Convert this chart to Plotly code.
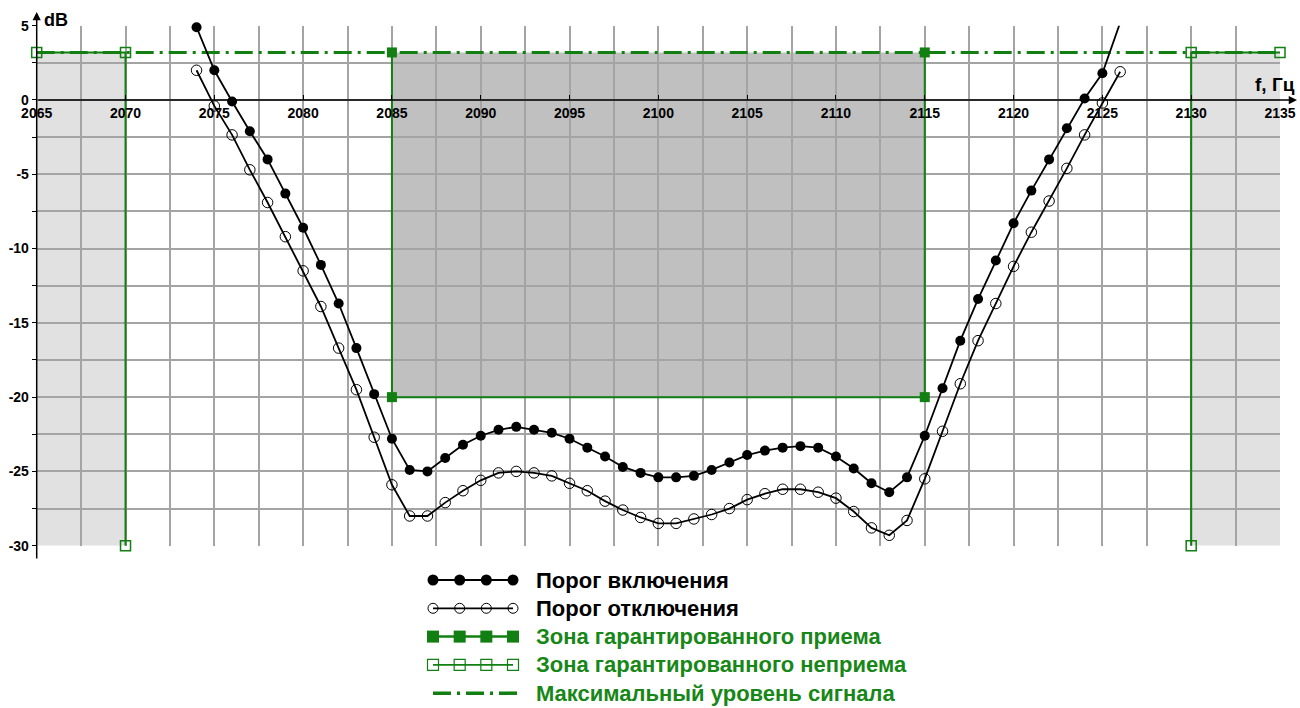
import plotly.graph_objects as go

# ---------------- data ----------------
FREQ = list(range(2074, 2127))
THRESH_ON = [4.9, 2.0, -0.1, -2.1, -4.0, -6.3, -8.6, -11.1, -13.7, -16.7, -19.8, -22.8,
             -24.9, -25.0, -24.1, -23.2, -22.6, -22.2, -22.0, -22.2, -22.4, -22.8, -23.4,
             -24.0, -24.7, -25.1, -25.4, -25.4, -25.3, -24.9, -24.4, -23.9, -23.6, -23.4,
             -23.3, -23.4, -24.0, -24.8, -25.8, -26.4, -25.4, -22.6, -19.4, -16.2, -13.4,
             -10.8, -8.3, -6.1, -4.0, -1.9, 0.1, 1.8, 5.2]
THRESH_OFF = [2.0, -0.4, -2.35, -4.7, -6.9, -9.2, -11.5, -13.9, -16.7, -19.5, -22.7, -25.9,
              -28.0, -28.0, -27.1, -26.3, -25.6, -25.1, -25.0, -25.1, -25.3, -25.8, -26.3,
              -27.0, -27.6, -28.1, -28.5, -28.5, -28.2, -27.9, -27.5, -26.9, -26.5, -26.2,
              -26.2, -26.4, -26.8, -27.7, -28.8, -29.3, -28.3, -25.5, -22.3, -19.1, -16.2,
              -13.7, -11.2, -8.9, -6.8, -4.6, -2.35, -0.2, 1.9]

MAX_LEVEL = 3.2
ACCEPT_F = [2085, 2115]
ACCEPT_LOW = -20
REJECT_LEFT = [2065, 2070]
REJECT_RIGHT = [2130, 2135]
REJECT_LOW = -30

X_RANGE = [2065, 2135]
Y_RANGE = [-30, 5]
X_TICKS = list(range(2065, 2136, 5))
Y_TICKS = list(range(-30, 6, 5))

LEGEND_LABELS = ["Порог включения", "Порог отключения", "Зона гарантированного приема",
                 "Зона гарантированного неприема", "Максимальный уровень сигнала"]
LEGEND_SAMPLE_X = [0, 1, 2, 3]

# ---------------- styles ----------------
W, H = 1300, 708
GREEN = "#117f11"
GREEN_TXT = "#178717"
GRID = "#a4a4a4"
DARK_FILL = "#c0c0c0"
LIGHT_FILL = "#e1e1e1"
FONT = "Liberation Sans"
DASHDOT = "18px,6px,3px,6px"

PL, PR, PT, PB = 36.7, 1280.0, 25.7, 545.7   # plot area in pixels


def px(x):
    return x / W


def py(y):
    return 1 - y / H


fig = go.Figure()

# shaded zones (below gridlines)
shapes = [
    dict(type="rect", xref="x", yref="y", x0=ACCEPT_F[0], x1=ACCEPT_F[1], y0=ACCEPT_LOW,
         y1=MAX_LEVEL, fillcolor=DARK_FILL, line=dict(width=0), layer="below"),
    dict(type="rect", xref="x", yref="y", x0=REJECT_LEFT[0], x1=REJECT_LEFT[1], y0=REJECT_LOW,
         y1=MAX_LEVEL, fillcolor=LIGHT_FILL, line=dict(width=0), layer="below"),
    dict(type="rect", xref="x", yref="y", x0=REJECT_RIGHT[0], x1=REJECT_RIGHT[1], y0=REJECT_LOW,
         y1=MAX_LEVEL, fillcolor=LIGHT_FILL, line=dict(width=0), layer="below"),
]

# max level line
fig.add_trace(go.Scatter(x=X_RANGE, y=[MAX_LEVEL, MAX_LEVEL], mode="lines",
                         line=dict(color=GREEN, width=3, dash=DASHDOT),
                         showlegend=False, hoverinfo="skip"))

# guaranteed non-reception zone
fig.add_trace(go.Scatter(
    x=[REJECT_LEFT[0], REJECT_LEFT[1], REJECT_LEFT[1], None,
       REJECT_RIGHT[0], REJECT_RIGHT[0], REJECT_RIGHT[1]],
    y=[MAX_LEVEL, MAX_LEVEL, REJECT_LOW, None, REJECT_LOW, MAX_LEVEL, MAX_LEVEL],
    mode="lines+markers", line=dict(color=GREEN, width=2),
    marker=dict(symbol="square-open", size=10, color=GREEN, opacity=1, line=dict(width=1.5)),
    cliponaxis=False, showlegend=False, hoverinfo="skip"))

# guaranteed reception zone
fig.add_trace(go.Scatter(
    x=[ACCEPT_F[0], ACCEPT_F[0], ACCEPT_F[1], ACCEPT_F[1]],
    y=[MAX_LEVEL, ACCEPT_LOW, ACCEPT_LOW, MAX_LEVEL],
    mode="lines+markers", line=dict(color=GREEN, width=2),
    marker=dict(symbol="square", size=10, color=GREEN, opacity=1, line=dict(width=0)),
    cliponaxis=False, showlegend=False, hoverinfo="skip"))

# thresholds
on_sizes = [0 if v > Y_RANGE[1] else 10 for v in THRESH_ON]
off_sizes = [0 if v > Y_RANGE[1] else 10.5 for v in THRESH_OFF]
fig.add_trace(go.Scatter(x=FREQ, y=THRESH_OFF, mode="lines+markers",
                         line=dict(color="black", width=1.8),
                         marker=dict(symbol="circle-open", size=off_sizes, color="black",
                                     opacity=1, line=dict(width=1, color="black")),
                         cliponaxis=False, showlegend=False, name=LEGEND_LABELS[1]))
fig.add_trace(go.Scatter(x=FREQ, y=THRESH_ON, mode="lines+markers",
                         line=dict(color="black", width=1.8),
                         marker=dict(symbol="circle", size=on_sizes, color="black",
                                     opacity=1, line=dict(width=0)),
                         cliponaxis=False, showlegend=False, name=LEGEND_LABELS[0]))

# ---------------- custom legend (separate axes) ----------------
leg_specs = [
    dict(mode="lines+markers", line=dict(color="black", width=2),
         marker=dict(symbol="circle", size=11, color="black", line=dict(width=0))),
    dict(mode="lines+markers", line=dict(color="black", width=1.8),
         marker=dict(symbol="circle-open", size=10, color="black", line=dict(width=1))),
    dict(mode="lines+markers", line=dict(color=GREEN, width=2.5),
         marker=dict(symbol="square", size=12, color=GREEN, line=dict(width=0))),
    dict(mode="lines+markers", line=dict(color=GREEN, width=1.8),
         marker=dict(symbol="square-open", size=11, color=GREEN, line=dict(width=1.2))),
    dict(mode="lines", line=dict(color=GREEN, width=3.5, dash=DASHDOT)),
]
for i, spec in enumerate(leg_specs):
    xs = LEGEND_SAMPLE_X if spec["mode"] != "lines" else [LEGEND_SAMPLE_X[0], LEGEND_SAMPLE_X[-1] + 0.15]
    fig.add_trace(go.Scatter(x=xs, y=[i] * len(xs), xaxis="x2", yaxis="y2",
                             showlegend=False, hoverinfo="skip", cliponaxis=False, **spec))

annotations = []
for i, lab in enumerate(LEGEND_LABELS):
    annotations.append(dict(
        xref="x2", yref="y2", x=3.78, y=i, text=lab, showarrow=False,
        xanchor="left", yanchor="middle",
        font=dict(family=FONT, size=22, weight="bold",
                  color="black" if i < 2 else GREEN_TXT)))

# axis arrows
annotations.append(dict(xref="paper", yref="paper", x=px(PL), y=py(12), text="",
                        showarrow=True, axref="pixel", ayref="pixel", ax=0, ay=560 - 12,
                        arrowhead=2, arrowsize=1.1, arrowwidth=1.5, arrowcolor="black"))
annotations.append(dict(xref="paper", yref="paper", x=px(1297), y=py(100), text="",
                        showarrow=True, axref="pixel", ayref="pixel", ax=-(1297 - PL), ay=0,
                        arrowhead=2, arrowsize=1.1, arrowwidth=1.5, arrowcolor="black"))
annotations.append(dict(xref="paper", yref="paper", x=px(42), y=py(20), text="dB",
                        showarrow=False, xanchor="left", yanchor="middle",
                        font=dict(family=FONT, size=18, weight="bold", color="black")))
annotations.append(dict(xref="paper", yref="paper", x=px(1297), y=py(85), text="f, Гц",
                        showarrow=False, xanchor="right", yanchor="middle",
                        font=dict(family=FONT, size=19, weight="bold", color="black")))

# legend axes geometry: x=0 -> 433 px, x=3 -> 513 px ; rows at 580 + 28.3*i
lx0, lx1 = 420, 540
scale_x = (513 - 433) / 3.0
leg_xr = [(lx0 - 433) / scale_x, (lx1 - 433) / scale_x]
ly0, ly1 = 566, 706
row0, dy = 580, 28.3
leg_yr = [(ly1 - row0) / dy, (ly0 - row0) / dy]

tickfont = dict(family=FONT, size=14, weight="bold", color="black")

fig.update_layout(
    width=W, height=H,
    margin=dict(l=0, r=0, t=0, b=0, autoexpand=False),
    paper_bgcolor="white", plot_bgcolor="white",
    showlegend=False,
    font=dict(family=FONT),
    shapes=shapes,
    annotations=annotations,
    xaxis=dict(domain=[px(PL), px(PR)], range=X_RANGE, anchor="free", position=py(100),
               automargin=False,
               tickmode="array", tickvals=X_TICKS, ticktext=[str(t) for t in X_TICKS],
               showgrid=True, gridcolor=GRID, gridwidth=1.5,
               minor=dict(dtick=2.5, tick0=X_RANGE[0], showgrid=True, gridcolor=GRID, gridwidth=1.5),
               ticks="inside", ticklen=5, tickwidth=1, tickcolor="black",
               ticklabelstandoff=3,
               tickfont=tickfont,
               zeroline=False, showline=False, fixedrange=True),
    yaxis=dict(domain=[py(PB), py(PT)], range=Y_RANGE, anchor="free", position=px(PL),
               automargin=False,
               tickmode="array", tickvals=Y_TICKS, ticktext=[str(t) for t in Y_TICKS],
               showgrid=True, gridcolor=GRID, gridwidth=1.5,
               minor=dict(dtick=2.5, tick0=0, showgrid=True, gridcolor=GRID, gridwidth=1.5,
                          ticks="outside", ticklen=5, tickcolor="black"),
               ticks="outside", ticklen=5, tickwidth=1, tickcolor="black",
               tickfont=tickfont,
               zeroline=False, showline=False, fixedrange=True),
    xaxis2=dict(domain=[px(lx0), px(lx1)], range=leg_xr, visible=False, anchor="y2",
                automargin=False, fixedrange=True),
    yaxis2=dict(domain=[py(ly1), py(ly0)], range=leg_yr, visible=False, anchor="x2",
                automargin=False, fixedrange=True),
)

fig.write_html("out.html", config={"displayModeBar": False},
               post_script="document.body.style.margin='0';document.body.style.overflow='hidden';")
